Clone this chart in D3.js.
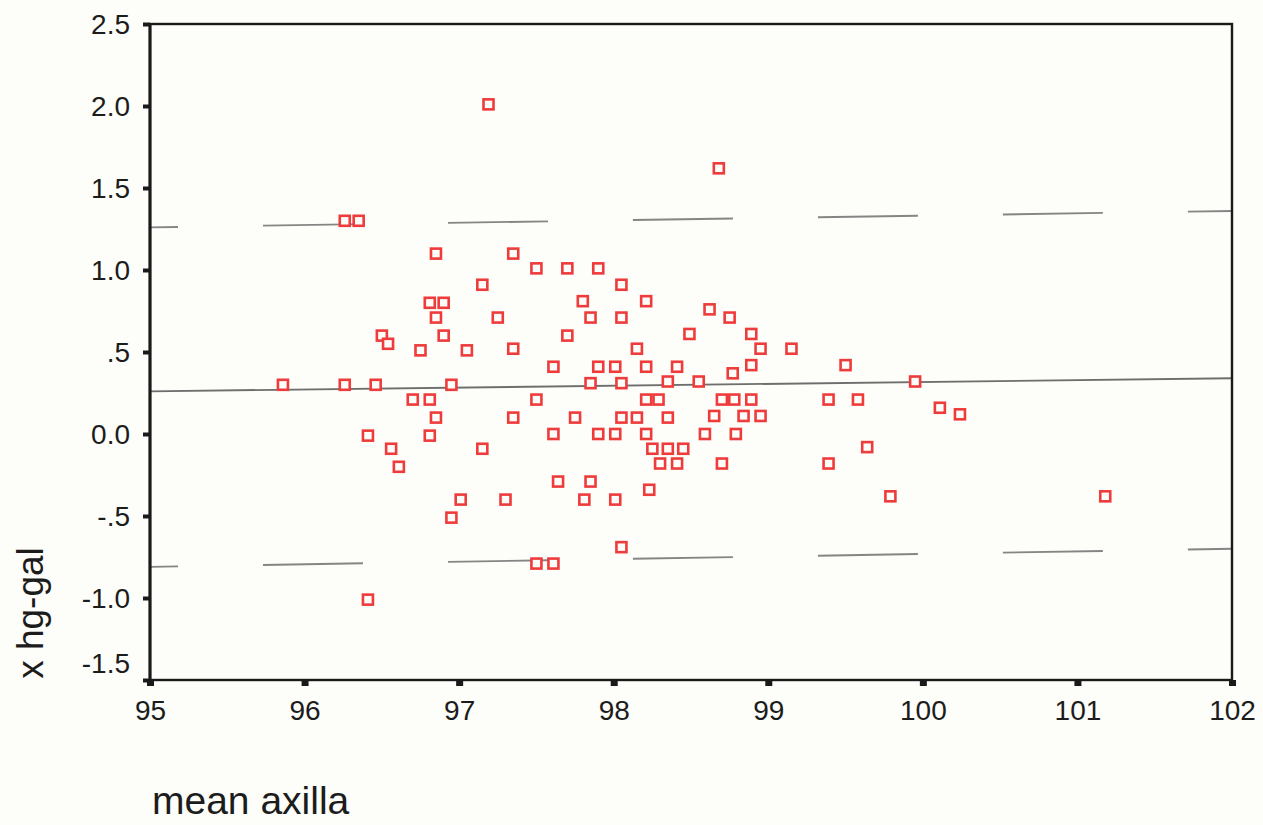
<!DOCTYPE html>
<html>
<head>
<meta charset="utf-8">
<script src="https://cdn.jsdelivr.net/npm/d3@7/dist/d3.min.js"></script>
<style>
	body { margin: 0; background: #fdfdf9; }
	svg { display: block; }
	text { font-family: "Liberation Sans", Arial, sans-serif; fill: #1c1c1c; }
</style>
</head>
<body>
<div id="div_id_main"></div>
<script>

// mean axilla (x) and x hg-gal (y), one entry per case
const g_vMeanAxilla = [
	97.19, 98.68, 96.26, 96.35, 96.85, 97.35, 97.15, 97.50, 97.70, 97.90,
	98.05, 96.81, 96.90, 96.85, 97.25, 97.80, 97.85, 98.05, 98.21, 98.62,
	98.75, 96.50, 96.54, 96.90, 96.75, 97.05, 97.35, 97.70, 98.15, 98.49,
	98.89, 98.95, 99.15, 95.86, 96.26, 96.46, 96.95, 97.61, 97.90, 98.01,
	98.21, 98.41, 97.85, 98.05, 98.35, 98.55, 98.89, 98.77, 99.50, 99.95,
	96.70, 96.81, 97.50, 98.21, 98.29, 98.70, 98.78, 98.89, 99.39, 99.58,
	100.11, 100.24, 97.35, 97.75, 98.05, 98.15, 98.35, 98.65, 98.84, 98.95,
	96.41, 96.81, 97.61, 97.90, 98.01, 98.21, 98.59, 98.79, 96.56, 97.15,
	98.25, 98.35, 98.45, 99.64, 96.61, 98.30, 98.41, 98.70, 99.39, 97.64,
	97.85, 98.23, 97.01, 97.30, 97.81, 98.01, 99.79, 101.18, 96.95, 98.05,
	97.50, 97.61, 96.41, 96.85
];

const g_vHgGal = [
	2.01, 1.62, 1.30, 1.30, 1.10, 1.10, 0.91, 1.01, 1.01, 1.01,
	0.91, 0.80, 0.80, 0.71, 0.71, 0.81, 0.71, 0.71, 0.81, 0.76,
	0.71, 0.60, 0.55, 0.60, 0.51, 0.51, 0.52, 0.60, 0.52, 0.61,
	0.61, 0.52, 0.52, 0.30, 0.30, 0.30, 0.30, 0.41, 0.41, 0.41,
	0.41, 0.41, 0.31, 0.31, 0.32, 0.32, 0.42, 0.37, 0.42, 0.32,
	0.21, 0.21, 0.21, 0.21, 0.21, 0.21, 0.21, 0.21, 0.21, 0.21,
	0.16, 0.12, 0.10, 0.10, 0.10, 0.10, 0.10, 0.11, 0.11, 0.11,
	-0.01, -0.01, 0.00, 0.00, 0.00, 0.00, 0.00, 0.00, -0.09, -0.09,
	-0.09, -0.09, -0.09, -0.08, -0.20, -0.18, -0.18, -0.18, -0.18, -0.29,
	-0.29, -0.34, -0.40, -0.40, -0.40, -0.40, -0.38, -0.38, -0.51, -0.69,
	-0.79, -0.79, -1.01, 0.10
];

const g_vXTicks = [95, 96, 97, 98, 99, 100, 101, 102];
const g_vYTicks = [-1.5, -1.0, -0.5, 0.0, 0.5, 1.0, 1.5, 2.0, 2.5];
const g_vYTickLabels = ["-1.5", "-1.0", "-.5", "0.0", ".5", "1.0", "1.5", "2.0", "2.5"];

// fitted lines, value at x = 95 and at x = 102
const g_vLineMean = [0.26, 0.34];
const g_vLineUpper = [1.26, 1.36];
const g_vLineLower = [-0.81, -0.70];

const PLOT_LEFT = 150;
const PLOT_RIGHT = 1232;
const PLOT_TOP = 24;
const PLOT_BOTTOM = 680;

function funcDraw_Main() {

	let svgMain = d3.select("#div_id_main")
					.append("svg")
						.attr("id", "svg_id_main")
						.attr("width", 1263)
						.attr("height", 825);

	let fScale_X = d3.scaleLinear()
							.domain([95, 102])
							.range([PLOT_LEFT, PLOT_RIGHT]);

	let fScale_Y = d3.scaleLinear()
							.domain([-1.5, 2.5])
							.range([PLOT_BOTTOM, PLOT_TOP]);

	// -----------------------------------------

	funcDraw_Lines(svgMain, fScale_X, fScale_Y);
	funcDraw_Points(svgMain, fScale_X, fScale_Y);
	funcDraw_Axes(svgMain, fScale_X, fScale_Y);
}

function funcDraw_Lines(svgMain, fScale_X, fScale_Y) {

	let vLines = [
		{ v: g_vLineMean, dash: null },
		{ v: g_vLineUpper, dash: "100,85" },
		{ v: g_vLineLower, dash: "100,85" }
	];

	svgMain.selectAll("line.line_class_fit")
		.data(vLines)
		.enter()
			.append("line")
				.attr("class", "line_class_fit")
				.attr("x1", fScale_X(95))
				.attr("y1", function(d) { return fScale_Y(d.v[0]); })
				.attr("x2", fScale_X(102))
				.attr("y2", function(d) { return fScale_Y(d.v[1]); })
				.attr("stroke", function(d) { return d.dash ? "#858585" : "#6e6e6e"; })
				.attr("stroke-width", 1.9)
				.attr("stroke-dasharray", function(d) { return d.dash; })
				.attr("stroke-dashoffset", 72);
}

function funcDraw_Points(svgMain, fScale_X, fScale_Y) {

	let nSize = 10;

	svgMain.selectAll("rect.rect_class_point")
		.data(g_vMeanAxilla)
		.enter()
			.append("rect")
				.attr("class", "rect_class_point")
				.attr("x", function(d) { return fScale_X(d) - nSize / 2; })
				.attr("y", function(d, i) { return fScale_Y(g_vHgGal[i]) - nSize / 2; })
				.attr("width", nSize)
				.attr("height", nSize)
				.attr("fill", "#fdfdf9")
				.attr("stroke", "#ee3b3b")
				.attr("stroke-width", 2.6);
}

function funcDraw_Axes(svgMain, fScale_X, fScale_Y) {

	// frame
	svgMain.append("rect")
				.attr("x", PLOT_LEFT)
				.attr("y", PLOT_TOP)
				.attr("width", PLOT_RIGHT - PLOT_LEFT)
				.attr("height", PLOT_BOTTOM - PLOT_TOP)
				.attr("fill", "none")
				.attr("stroke", "#1a1a1a")
				.attr("stroke-width", 2.4);

	svgMain.append("line")
				.attr("x1", PLOT_LEFT)
				.attr("y1", PLOT_TOP)
				.attr("x2", PLOT_LEFT)
				.attr("y2", PLOT_BOTTOM)
				.attr("stroke", "#1a1a1a")
				.attr("stroke-width", 3);

	// ----------------------------

	let gY = svgMain.append("g")
					.attr("transform", "translate(" + PLOT_LEFT + ",0)")
					.call(d3.axisLeft(fScale_Y)
							.tickValues(g_vYTicks)
							.tickFormat(function(d, i) { return g_vYTickLabels[i]; })
							.tickSize(7)
							.tickPadding(13));

	let gX = svgMain.append("g")
					.attr("transform", "translate(0," + PLOT_BOTTOM + ")")
					.call(d3.axisBottom(fScale_X)
							.tickValues(g_vXTicks)
							.tickFormat(d3.format("d"))
							.tickSize(6)
							.tickPadding(14));

	gY.select(".domain").remove();
	gX.select(".domain").remove();

	gY.selectAll(".tick line").attr("stroke", "#1a1a1a").attr("stroke-width", 4);
	gX.selectAll(".tick line").attr("stroke", "#1a1a1a").attr("stroke-width", 7);

	gY.selectAll(".tick text")
			.attr("font-size", 28)
			.attr("fill", "#1c1c1c")
			.attr("dy", function(d) { return d == -1.5 ? "-0.28em" : "0.34em"; });

	gX.selectAll(".tick text")
			.attr("font-size", 28)
			.attr("fill", "#1c1c1c");

	// ----------------------------

	svgMain.append("text")
				.attr("transform", "translate(43,613) rotate(-90)")
				.attr("text-anchor", "middle")
				.attr("font-size", 37)
				.text("x hg-gal");

	svgMain.append("text")
				.attr("x", 152)
				.attr("y", 814)
				.attr("font-size", 39)
				.text("mean axilla");
}

funcDraw_Main();

</script>
</body>
</html>
